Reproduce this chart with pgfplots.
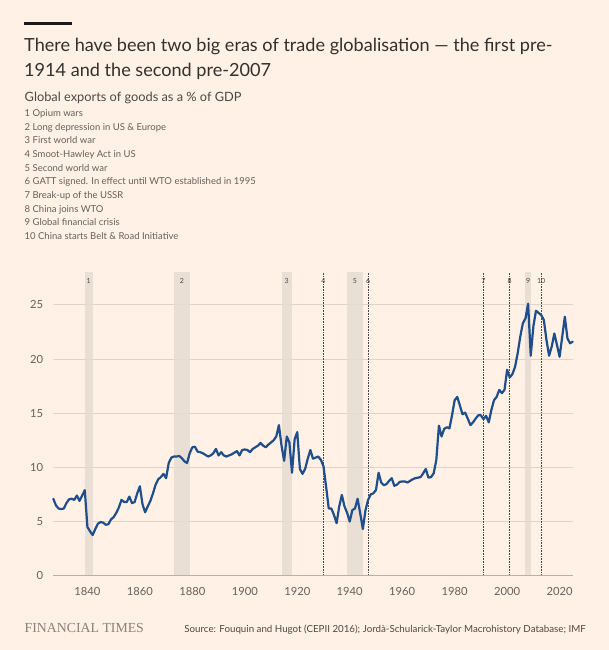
\documentclass[border=0pt]{standalone}
\usepackage{pgfplots}
\pgfplotsset{compat=1.18}
\usepackage{pgfplotstable}
\usepackage{fontspec}
\setmainfont{Lato}
\newfontfamily\ftserif{Liberation Serif}
\definecolor{bg}{HTML}{FFF1E5}
\definecolor{band}{HTML}{E7DCD2}
\definecolor{gridc}{HTML}{E0D4CA}
\definecolor{zeroc}{HTML}{B9B0A8}
\definecolor{linec}{HTML}{1F4E8C}
\definecolor{titlec}{HTML}{33302E}
\definecolor{subc}{HTML}{4D4845}
\definecolor{listc}{HTML}{66605C}
\definecolor{tickc}{HTML}{66605C}
\definecolor{dotc}{HTML}{4D4845}
\definecolor{ftc}{HTML}{8A817B}

\pgfplotstableread{
year val
1827 7.1
1828 6.5
1829 6.2
1830 6.15
1831 6.2
1832 6.7
1833 7.05
1834 7.1
1835 7.0
1836 7.4
1837 6.9
1838 7.4
1839 7.9
1840 4.5
1841 4.1
1842 3.75
1843 4.3
1844 4.8
1845 4.95
1846 4.9
1847 4.7
1848 4.75
1849 5.2
1850 5.4
1851 5.8
1852 6.3
1853 7.0
1854 6.8
1855 6.8
1856 7.3
1857 6.7
1858 6.8
1859 7.6
1860 8.25
1861 6.6
1862 5.85
1863 6.4
1864 6.9
1865 7.6
1866 8.4
1867 8.9
1868 9.1
1869 9.4
1870 9.0
1871 10.4
1872 10.9
1873 11.0
1874 11.0
1875 11.05
1876 10.85
1877 10.55
1878 10.4
1879 11.3
1880 11.85
1881 11.9
1882 11.45
1883 11.4
1884 11.3
1885 11.15
1886 11.0
1887 11.1
1888 11.3
1889 11.7
1890 11.1
1891 11.4
1892 11.1
1893 11.0
1894 11.1
1895 11.2
1896 11.35
1897 11.5
1898 11.1
1899 11.6
1900 11.65
1901 11.6
1902 11.4
1903 11.7
1904 11.85
1905 12.0
1906 12.25
1907 12.0
1908 11.85
1909 12.1
1910 12.3
1911 12.5
1912 12.85
1913 13.9
1914 12.0
1915 10.6
1916 12.85
1917 12.3
1918 9.5
1919 12.6
1920 13.25
1921 9.85
1922 9.4
1923 9.85
1924 10.8
1925 11.6
1926 10.8
1927 10.9
1928 11.0
1929 10.7
1930 10.1
1931 8.2
1932 6.2
1933 6.2
1934 5.6
1935 4.85
1936 6.4
1937 7.45
1938 6.4
1939 5.8
1940 5.0
1941 6.05
1942 6.2
1943 7.1
1944 5.75
1945 4.3
1946 6.05
1947 7.0
1948 7.5
1949 7.6
1950 7.9
1951 9.5
1952 8.6
1953 8.35
1954 8.45
1955 8.75
1956 9.0
1957 8.3
1958 8.4
1959 8.65
1960 8.7
1961 8.7
1962 8.6
1963 8.75
1964 8.9
1965 9.0
1966 9.05
1967 9.1
1968 9.45
1969 9.85
1970 9.05
1971 9.1
1972 9.45
1973 10.65
1974 13.85
1975 12.85
1976 13.55
1977 13.7
1978 13.6
1979 14.8
1980 16.2
1981 16.5
1982 15.7
1983 14.9
1984 15.05
1985 14.5
1986 13.9
1987 14.15
1988 14.5
1989 14.8
1990 14.8
1991 14.45
1992 14.75
1993 14.15
1994 15.3
1995 16.2
1996 16.5
1997 17.15
1998 16.85
1999 17.15
2000 19.0
2001 18.3
2002 18.6
2003 19.25
2004 20.5
2005 22.05
2006 23.3
2007 23.75
2008 25.1
2009 20.3
2010 23.0
2011 24.45
2012 24.25
2013 24.05
2014 23.6
2015 21.75
2016 20.3
2017 21.15
2018 22.35
2019 21.3
2020 20.2
2021 22.05
2022 23.9
2023 21.9
2024 21.45
2025 21.6
}\exports

\begin{document}
\begin{tikzpicture}
\fill[bg] (0pt,0pt) rectangle (609pt,-650pt);
\fill[black!90] (24pt,-22.3pt) rectangle (72pt,-25.3pt);
\node[anchor=base west, inner sep=0, font=\fontsize{18.1}{25}\selectfont, text=titlec] at (24pt,-51.7pt) {There have been two big eras of trade globalisation --- the first pre-};
\node[anchor=base west, inner sep=0, font=\fontsize{18.1}{25}\selectfont, text=titlec] at (24pt,-76.7pt) {1914 and the second pre-2007};
\node[anchor=base west, inner sep=0, font=\fontsize{12.8}{15}\selectfont, text=subc] at (24.5pt,-101.7pt) {Global exports of goods as a \% of GDP};
\foreach \t [count=\i from 0] in {1 Opium wars, 2 Long depression in US \& Europe, 3 First world war, 4 Smoot-Hawley Act in US, 5 Second world war, 6 GATT signed. In effect until WTO established in 1995, 7 Break-up of the USSR, 8 China joins WTO, 9 Global financial crisis, 10 China starts Belt \& Road Initiative}{
  \node[anchor=base west, inner sep=0, font=\fontsize{9.5}{11}\selectfont, text=listc] at (24.5pt,{-116.7pt-13.62pt*\i}) {\t};
}
\node[anchor=base west, inner sep=0, font=\ftserif\fontsize{13.8}{15}\selectfont, text=ftc] at (24.5pt,-632.5pt) {FINANCIAL TIMES};
\node[anchor=base east, inner sep=0, font=\fontsize{9.75}{11}\selectfont, text=subc] at (586pt,-632pt) {Source: Fouquin and Hugot (CEPII 2016); Jordà-Schularick-Taylor Macrohistory Database; IMF};

\begin{axis}[
  at={(53.3pt,-575.7pt)}, anchor=south west,
  width=519.4pt, height=303.4pt, scale only axis,
  xmin=1827, xmax=2025, ymin=0, ymax=28,
  clip=false,
  axis line style={draw=none},
  major tick length=0pt,
  xtick={1840,1860,...,2020},
  ytick={0,5,...,25},
  ymajorgrids,
  grid style={gridc, line width=0.8pt},
  /pgf/number format/assume math mode=true,
  /pgf/number format/1000 sep={},
  tick label style={font=\fontsize{11.2}{13}\selectfont, text=tickc},
  yticklabel style={anchor=east, inner sep=0pt, xshift=-10pt},
  xticklabel style={anchor=base, inner sep=0pt, yshift=-19.5pt},
]
\addplot[fill=band, fill opacity=0.85, draw=none] coordinates {(1839,28) (1842,28)} \closedcycle;
\addplot[fill=band, fill opacity=0.85, draw=none] coordinates {(1873,28) (1879,28)} \closedcycle;
\addplot[fill=band, fill opacity=0.85, draw=none] coordinates {(1914,28) (1918,28)} \closedcycle;
\addplot[fill=band, fill opacity=0.85, draw=none] coordinates {(1939,28) (1945,28)} \closedcycle;
\addplot[fill=band, fill opacity=0.85, draw=none] coordinates {(2007,28) (2009,28)} \closedcycle;
\addplot[dotc, densely dotted, line width=0.6pt] coordinates {(1930,0) (1930,28)};
\addplot[dotc, densely dotted, line width=0.6pt] coordinates {(1947,0) (1947,28)};
\addplot[dotc, densely dotted, line width=0.6pt] coordinates {(1991,0) (1991,28)};
\addplot[dotc, densely dotted, line width=0.6pt] coordinates {(2001,0) (2001,28)};
\addplot[dotc, densely dotted, line width=0.6pt] coordinates {(2013,0) (2013,28)};
\addplot[zeroc, line width=0.9pt] coordinates {(1827,0) (2025,0)};
\addplot[linec, line width=2.2pt, line join=round, line cap=round] table[x=year, y=val] {\exports};
\foreach \xx/\lab in {1840.5/1, 1876/2, 1916/3, 1930/4, 1942/5, 1947/6, 1991/7, 2001/8, 2008/9, 2013/10}{
  \edef\temp{\noexpand\node[font=\noexpand\fontsize{7}{8}\noexpand\selectfont, text=subc, inner sep=0.5pt] at (axis cs:\xx,27.2) {\lab};}
  \temp
}
\end{axis}
\end{tikzpicture}
\end{document}
